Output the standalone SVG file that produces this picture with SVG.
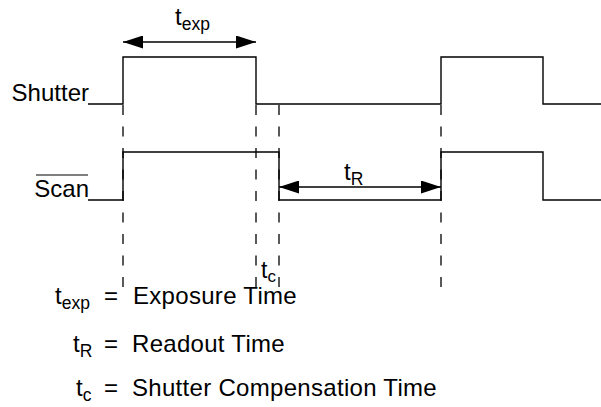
<svg xmlns="http://www.w3.org/2000/svg" width="601" height="407" viewBox="0 0 601 407">
<style>
text{font-family:"Liberation Sans",Arial,sans-serif;font-size:24px;fill:#000}
.sub{font-size:17.5px}
.wide{letter-spacing:0.3px}
.sig{fill:none;stroke:#000;stroke-width:1.4}
.dash{fill:none;stroke:#000;stroke-width:1.3;stroke-dasharray:10 11.5}
.dim{fill:none;stroke:#000;stroke-width:1.4}
</style>
<defs>
<marker id="ah" viewBox="0 0 20 13" refX="20" refY="6.5" markerWidth="20" markerHeight="13" markerUnits="userSpaceOnUse" orient="auto-start-reverse">
<path d="M0,0 L20,6.5 L0,13 Z" fill="#000"/>
</marker>
</defs>
<g id="shutter">
<text x="89" y="101" text-anchor="end">Shutter</text>
<polyline class="sig" points="88,104 123,104 123,57 256,57 256,104 441,104 441,57 543,57 543,104 601,104"/>
</g>
<g id="scan">
<text x="89" y="197" text-anchor="end">Scan</text>
<line x1="36" y1="175" x2="88" y2="175" stroke="#000" stroke-width="1.2"/>
<polyline class="sig" points="88,200 123,200 123,152 279,152 279,200 441,200 441,152 543,152 543,200 601,200"/>
</g>
<g id="connectors">
<line class="dash" x1="123" y1="105" x2="123" y2="287"/>
<line class="dash" x1="256" y1="105" x2="256" y2="287"/>
<line class="dash" x1="279" y1="105" x2="279" y2="287"/>
<line class="dash" x1="441" y1="105" x2="441" y2="287"/>
<line class="dim" x1="123" y1="42" x2="256" y2="42" marker-start="url(#ah)" marker-end="url(#ah)"/>
<line class="dim" x1="279" y1="187" x2="441" y2="187" marker-start="url(#ah)" marker-end="url(#ah)"/>
</g>
<g id="label-texp">
<text x="175" y="25">t<tspan class="sub" dy="5">exp</tspan></text>
</g>
<g id="label-tR">
<text x="344" y="180">t<tspan class="sub" dy="5">R</tspan></text>
</g>
<g id="label-tc">
<text x="261" y="278" style="font-size:23px">t<tspan class="sub" dy="4" style="font-size:17px">c</tspan></text>
</g>
<g id="legend">
<text x="55" y="304">t<tspan class="sub" dy="5">exp</tspan></text>
<text x="104" y="304">=</text>
<text class="wide" x="133" y="304">Exposure Time</text>
<text x="73" y="352">t<tspan class="sub" dy="5">R</tspan></text>
<text x="104" y="352">=</text>
<text class="wide" x="132" y="352">Readout Time</text>
<text x="76" y="396">t<tspan class="sub" dy="5">c</tspan></text>
<text x="104" y="396">=</text>
<text class="wide" x="132" y="396">Shutter Compensation Time</text>
</g>
</svg>
